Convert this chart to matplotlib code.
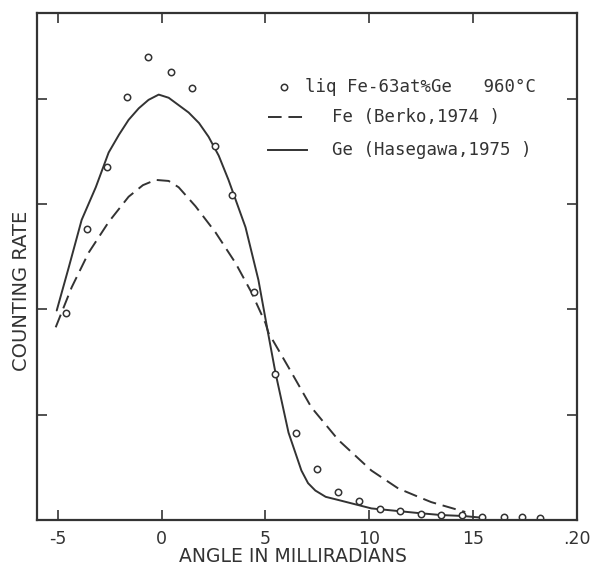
import matplotlib
matplotlib.use("Agg")
import matplotlib.pyplot as plt
from matplotlib.lines import Line2D

# ---- data ----
meas_x = [-4.6, -3.61, -2.64, -1.68, -0.67, 0.43, 1.44, 2.55, 3.41, 4.47,
          5.48, 6.49, 7.50, 8.51, 9.52, 10.53, 11.49, 12.5, 13.46, 14.47,
          15.43, 16.49, 17.36, 18.22]
meas_y = [1.97, 2.76, 3.35, 4.02, 4.40, 4.25, 4.10, 3.55, 3.09, 2.17,
          1.39, 0.83, 0.48, 0.27, 0.18, 0.10, 0.085, 0.057, 0.047, 0.047,
          0.028, 0.028, 0.028, 0.019]

ge_x = [-5.05, -4.47, -3.85, -3.17, -2.55, -2.05, -1.59, -1.10, -0.63, -0.14,
        0.34, 0.82, 1.30, 1.80, 2.26, 2.75, 3.22, 4.04, 4.66, 5.14, 5.48, 6.11,
        6.73, 7.05, 7.40, 7.90, 8.51, 10.10, 11.39, 12.36, 13.46, 14.52, 15.58]
ge_y = [1.99, 2.40, 2.85, 3.16, 3.49, 3.66, 3.80, 3.91, 3.99, 4.04,
        4.01, 3.94, 3.87, 3.77, 3.64, 3.46, 3.23, 2.78, 2.28, 1.76, 1.40, 0.83,
        0.47, 0.35, 0.28, 0.22, 0.19, 0.11, 0.085, 0.066, 0.047, 0.038, 0.019]

fe_x = [-5.10, -4.33, -3.51, -2.55, -1.59, -0.90, -0.29, 0.34, 0.82, 1.63,
        2.60, 3.56, 4.33, 5.00, 5.14, 6.11, 7.21, 8.51, 10.10, 11.39, 12.36,
        12.98, 14.62]
fe_y = [1.83, 2.21, 2.54, 2.83, 3.07, 3.18, 3.23, 3.22, 3.16, 2.98,
        2.73, 2.44, 2.16, 1.87, 1.78, 1.45, 1.07, 0.76, 0.47, 0.30, 0.22,
        0.17, 0.076]

xticks = [-5, 0, 5, 10, 15, 20]
xtick_labels = ["-5", "0", "5", "10", "15", ".20"]
yticks = [1, 2, 3, 4]

legend_labels = ["liq Fe-63at%Ge   960°C", "Fe (Berko,1974 )", "Ge (Hasegawa,1975 )"]

# ---- drawing ----
ink = "#333333"
fig = plt.figure(figsize=(5.95, 5.68), dpi=100)
ax = fig.add_axes([37/595, 48/568, 540/595, 507/568])

ax.plot(ge_x, ge_y, color=ink, lw=1.4, solid_capstyle="round",
        solid_joinstyle="round")
ax.plot(fe_x, fe_y, color=ink, lw=1.4, linestyle=(0, (7, 3.5)))
ax.plot(meas_x, meas_y, linestyle="none", marker="o", markersize=4.6,
        markerfacecolor="white", markeredgecolor=ink, markeredgewidth=1.1)

ax.set_xlim(-6.0, 20.0)
ax.set_ylim(0, 4.815)
ax.set_xticks(xticks)
ax.set_xticklabels(xtick_labels)
ax.set_yticks(yticks)
ax.set_yticklabels([])
ax.tick_params(direction="in", length=7.5, width=1.2, colors=ink,
               top=True, right=True, labelsize=12.5, pad=7)
for s in ax.spines.values():
    s.set_linewidth(1.6)
    s.set_color(ink)

ax.set_xlabel("ANGLE IN MILLIRADIANS", fontsize=13.5, color=ink, va="center")
ax.xaxis.set_label_coords((293 - 37) / 540, (520 - 557) / 507)
ax.set_ylabel("COUNTING RATE", fontsize=14, color=ink, va="center")
ax.yaxis.set_label_coords((22 - 37) / 540, (520 - 291) / 507)

# legend drawn manually
mono = "DejaVu Sans Mono"
ax.plot([0.457], [0.854], transform=ax.transAxes, marker="o", markersize=4.6,
        markerfacecolor="white", markeredgecolor=ink, markeredgewidth=1.1,
        linestyle="none")
ax.text(0.496, 0.854, legend_labels[0], transform=ax.transAxes, fontsize=12.5,
        family=mono, color=ink, va="center", ha="left")
ax.add_line(Line2D([0.428, 0.500], [0.795, 0.795], transform=ax.transAxes,
                   color=ink, lw=1.4, linestyle=(0, (7, 3.5))))
ax.text(0.546, 0.795, legend_labels[1], transform=ax.transAxes, fontsize=12.5,
        family=mono, color=ink, va="center", ha="left")
ax.add_line(Line2D([0.428, 0.500], [0.730, 0.730], transform=ax.transAxes,
                   color=ink, lw=1.4))
ax.text(0.546, 0.730, legend_labels[2], transform=ax.transAxes, fontsize=12.5,
        family=mono, color=ink, va="center", ha="left")

fig.savefig("out.png", dpi=100)
